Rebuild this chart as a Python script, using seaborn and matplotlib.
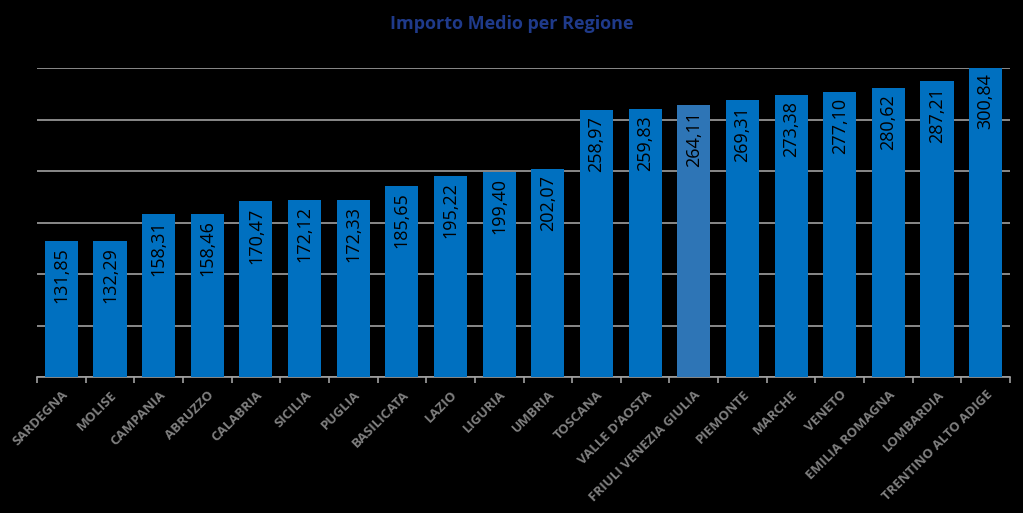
import pandas as pd
import seaborn as sns
import matplotlib.pyplot as plt

regioni = ['SARDEGNA', 'MOLISE', 'CAMPANIA', 'ABRUZZO', 'CALABRIA', 'SICILIA',
           'PUGLIA', 'BASILICATA', 'LAZIO', 'LIGURIA', 'UMBRIA', 'TOSCANA',
           "VALLE D'AOSTA", 'FRIULI VENEZIA GIULIA', 'PIEMONTE', 'MARCHE',
           'VENETO', 'EMILIA ROMAGNA', 'LOMBARDIA', 'TRENTINO ALTO ADIGE']
importi = [131.85, 132.29, 158.31, 158.46, 170.47, 172.12, 172.33, 185.65,
           195.22, 199.40, 202.07, 258.97, 259.83, 264.11, 269.31, 273.38,
           277.10, 280.62, 287.21, 300.84]
evidenziata = 'FRIULI VENEZIA GIULIA'


def main():
    df = pd.DataFrame({'regione': regioni, 'importo': importi})
    colori = ['#2E75B6' if r == evidenziata else '#0070C0' for r in regioni]

    sns.set_style('dark')
    plt.rcParams['font.family'] = ['Open Sans', 'DejaVu Sans']

    fig = plt.figure(figsize=(10.23, 5.13), dpi=100, facecolor='black')
    ax = fig.add_axes([37 / 1023, 1 - 377 / 513, 973 / 1023, 309 / 513])
    ax.set_facecolor('black')

    sns.barplot(data=df, x='regione', y='importo', hue='regione',
                palette=colori, legend=False, width=0.68, saturation=1,
                linewidth=0, edgecolor='none', ax=ax, zorder=3)

    ax.set_ylim(0, 300)
    ax.set_yticks(range(0, 301, 50))
    ax.set_yticklabels([])
    ax.tick_params(axis='y', length=0)
    ax.grid(axis='y', color='#A0A0A0', linewidth=1.2, zorder=0)
    ax.grid(axis='x', visible=False)
    ax.set_xlim(-0.5, len(regioni) - 0.5)

    for side in ['top', 'right', 'left']:
        ax.spines[side].set_visible(False)
    ax.spines['bottom'].set_color('#A0A0A0')
    ax.spines['bottom'].set_linewidth(1.2)

    # separatori tra le categorie sull'asse x
    ax.set_xticks(range(len(regioni)))
    ax.set_xticks([i - 0.5 for i in range(len(regioni) + 1)], minor=True)
    ax.tick_params(axis='x', which='minor', bottom=True, length=4,
                   color='#A0A0A0', width=1.2)
    ax.tick_params(axis='x', which='major', bottom=False, length=0, pad=8)
    ax.set_xticklabels(regioni, rotation=45, ha='right', rotation_mode='anchor',
                       color='#808080', fontsize=9.5, fontweight='bold')
    ax.set_xlabel('')
    ax.set_ylabel('')

    for i, v in enumerate(importi):
        ax.text(i, v - 6, f'{v:.2f}'.replace('.', ','), rotation=90,
                ha='center', va='top', color='black', fontsize=13, zorder=4)

    fig.text(0.5, 1 - 24 / 513, 'Importo Medio per Regione', ha='center',
             va='center', color='#1F3A8A', fontsize=13, fontweight='bold')

    fig.savefig('out.png', dpi=100, facecolor='black')


if __name__ == '__main__':
    main()
